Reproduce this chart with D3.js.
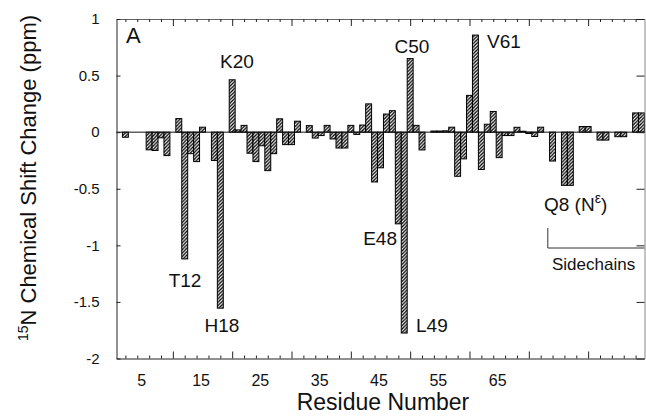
<!DOCTYPE html>
<html>
<head>
<meta charset="utf-8">
<script src="https://cdn.jsdelivr.net/npm/d3@7"></script>
<style>
  body { margin: 0; background: #fff; }
  text { font-family: "Liberation Sans", Arial, Helvetica, sans-serif; fill: #111; }
</style>
</head>
<body>
<div id="chart"></div>
<script>
// Residues with a measurable shift (others ~0)
const residues = [2, 6, 7, 8, 9, 11, 12, 13, 14, 15, 17, 18, 20, 21, 22, 23, 24, 25, 26, 27,
  28, 29, 30, 31, 33, 34, 35, 36, 37, 38, 39, 40, 41, 42, 43, 44, 45, 46, 47, 48,
  49, 50, 51, 52, 54, 55, 56, 57, 58, 59, 60, 61, 62, 63, 64, 65, 66, 67, 68, 69,
  70, 71, 72, 74, 76, 77, 79, 80, 82, 83, 85, 86, 88, 89];
const shifts = [-0.045, -0.156, -0.162, -0.05, -0.207, 0.12, -1.12, -0.19, -0.26, 0.044, -0.25, -1.555, 0.463, 0.02, 0.06, -0.186, -0.26, -0.12, -0.34, -0.19,
  0.118, -0.11, -0.11, 0.097, 0.058, -0.052, -0.03, 0.06, -0.06, -0.14, -0.14, 0.06, -0.02, 0.063, 0.25, -0.44, -0.315, 0.16, 0.19, -0.81,
  -1.775, 0.65, 0.06, -0.157, 0.01, 0.01, 0.012, 0.044, -0.39, -0.236, 0.325, 0.858, -0.33, 0.07, 0.183, -0.225, -0.03, -0.03, 0.043, 0.008,
  -0.012, -0.038, 0.044, -0.255, -0.47, -0.47, 0.05, 0.05, -0.07, -0.07, -0.04, -0.04, 0.17, 0.17];

// Annotated residues
const labelNames = ["T12", "H18", "K20", "E48", "L49", "C50", "V61"];
const labelResidues = [12, 18, 20, 48, 49, 50, 61];

const xTickLabels = [5, 15, 25, 35, 45, 55, 65];
const xMajorTicks = [10, 20, 30, 40, 50, 60, 70, 80];
const xMinorTicks = [2, 4, 6, 8, 12, 14, 16, 18, 22, 24, 26, 28, 32, 34, 36, 38, 42, 44, 46, 48,
  52, 54, 56, 58, 62, 64, 66, 68, 72, 74, 76, 78, 82, 84, 86, 88];
const yTicks = [-2, -1.5, -1, -0.5, 0, 0.5, 1];

const ancho = 646, alto = 417;
const margen = { top: 19, right: 1, bottom: 59, left: 116.5 };

const svg = d3.select("#chart").append("svg")
  .attr("width", ancho).attr("height", alto);

// hatch pattern for the bars
const patron = svg.append("defs").append("pattern")
  .attr("id", "rayado")
  .attr("patternUnits", "userSpaceOnUse")
  .attr("width", 3.4).attr("height", 3.4);
patron.append("rect").attr("width", 3.4).attr("height", 3.4).attr("fill", "#fff");
patron.append("path")
  .attr("d", "M-1,1 l2,-2 M0,3.4 l3.4,-3.4 M2.4,4.4 l2,-2")
  .attr("stroke", "#000").attr("stroke-width", 1.35);

const x = d3.scaleLinear().domain([0.5, 89.5]).range([margen.left, ancho - margen.right - 0.5]);
const y = d3.scaleLinear().domain([-2, 1]).range([alto - margen.bottom + 0.5, margen.top]);

const datos = residues.map((r, i) => ({ r, v: shifts[i] }));

// bars
svg.selectAll(".barra")
  .data(datos)
  .enter().append("rect")
  .attr("class", "barra")
  .attr("x", d => x(d.r - 0.5))
  .attr("width", d => x(d.r + 0.5) - x(d.r - 0.5))
  .attr("y", d => y(Math.max(0, d.v)))
  .attr("height", d => Math.abs(y(d.v) - y(0)))
  .attr("fill", "url(#rayado)")
  .attr("stroke", "#000")
  .attr("stroke-width", 1);

// zero line
svg.append("line")
  .attr("x1", x(0.5)).attr("x2", x(89.5))
  .attr("y1", y(0)).attr("y2", y(0))
  .attr("stroke", "#111").attr("stroke-width", 1);

const estiloEje = g => {
  g.selectAll("path, line").attr("stroke", "#222");
  g.select(".domain").attr("stroke-width", 1);
};

// bottom axis: inward ticks
const yBase = y(-2);
svg.append("g").attr("transform", `translate(0,${yBase})`)
  .call(d3.axisBottom(x).tickValues(xMinorTicks).tickSize(-3).tickSizeOuter(0).tickFormat(""))
  .call(estiloEje);
svg.append("g").attr("transform", `translate(0,${yBase})`)
  .call(d3.axisBottom(x).tickValues(xMajorTicks).tickSize(-7).tickSizeOuter(0).tickFormat(""))
  .call(g => g.select(".domain").remove())
  .call(estiloEje);
svg.append("g").attr("transform", `translate(-2,${yBase})`)
  .call(d3.axisBottom(x).tickValues(xTickLabels).tickSize(0).tickPadding(16))
  .call(g => g.select(".domain").remove())
  .call(g => g.selectAll("text").style("font-size", "16px"));

// top axis
svg.append("g").attr("transform", `translate(0,${y(1)})`)
  .call(d3.axisTop(x).tickValues(xMinorTicks).tickSize(-3).tickSizeOuter(0).tickFormat(""))
  .call(estiloEje)
  .call(g => g.select(".domain").attr("stroke", "#666"));
svg.append("g").attr("transform", `translate(0,${y(1)})`)
  .call(d3.axisTop(x).tickValues(xMajorTicks).tickSize(-7).tickSizeOuter(0).tickFormat(""))
  .call(g => g.select(".domain").remove())
  .call(estiloEje);

// left axis
svg.append("g").attr("transform", `translate(${x(0.5)},0)`)
  .call(d3.axisLeft(y).tickValues(yTicks).tickSize(-4).tickSizeOuter(0).tickPadding(17)
    .tickFormat(d => String(d)))
  .call(estiloEje)
  .call(g => g.selectAll("text").style("font-size", "15px"));

// right axis ticks
svg.append("g").attr("transform", `translate(${x(89.5)},0)`)
  .call(d3.axisRight(y).tickValues(yTicks).tickSize(-8).tickSizeOuter(0).tickFormat(""))
  .call(estiloEje)
  .call(g => g.select(".domain").attr("stroke", "#888"));

// panel letter
svg.append("text").attr("x", 126).attr("y", 43)
  .style("font-size", "22px").text("A");

// residue labels
const posLabel = {
  T12: [185, 287, "middle"], H18: [222, 332, "middle"], K20: [237, 68, "middle"],
  E48: [397, 245, "end"], L49: [416, 332, "start"], C50: [412, 53, "middle"], V61: [487, 48, "start"]
};
labelNames.forEach((n, i) => {
  const p = posLabel[n];
  svg.append("text")
    .attr("x", p[0]).attr("y", p[1])
    .attr("text-anchor", p[2])
    .style("font-size", "19px")
    .text(n);
});

// sidechain annotation
const q8 = svg.append("text").attr("x", 544).attr("y", 211).style("font-size", "19px");
q8.append("tspan").text("Q8 (N");
q8.append("tspan").attr("baseline-shift", "super").style("font-size", "14px").text("ε");
q8.append("tspan").text(")");

svg.append("path")
  .attr("d", `M${x(73.2)},${228} V${248} H${x(89.5)}`)
  .attr("fill", "none").attr("stroke", "#333").attr("stroke-width", 1);
svg.append("text").attr("x", 552).attr("y", 270)
  .style("font-size", "17px").text("Sidechains");

// axis titles
svg.append("text")
  .attr("x", 383).attr("y", 410)
  .attr("text-anchor", "middle")
  .style("font-size", "23px")
  .text("Residue Number");

const tituloY = svg.append("text")
  .attr("transform", "translate(36,178) rotate(-90)")
  .attr("text-anchor", "middle")
  .style("font-size", "22px");
tituloY.append("tspan").attr("baseline-shift", "super").style("font-size", "14px").text("15");
tituloY.append("tspan").text("N Chemical Shift Change (ppm)");
</script>
</body>
</html>
